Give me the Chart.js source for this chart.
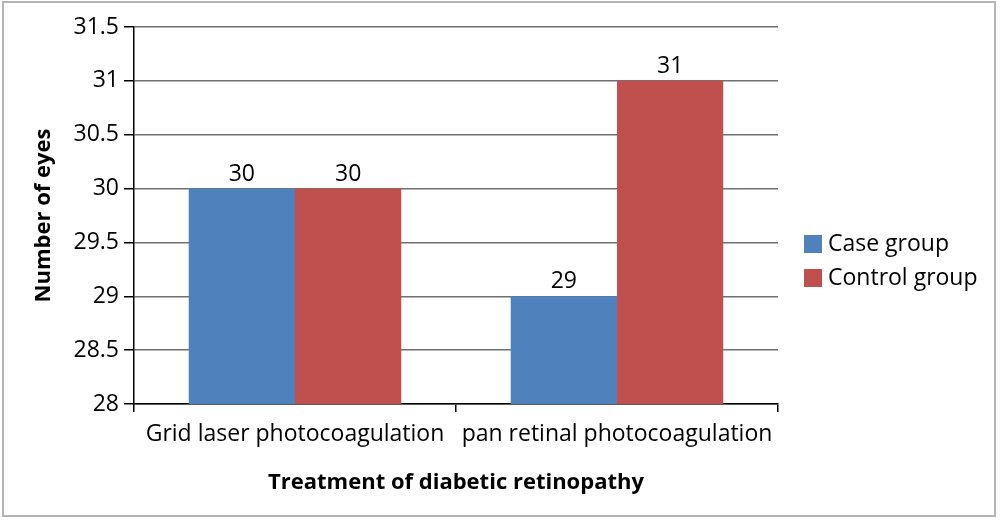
<!DOCTYPE html>
<html>
<head>
<meta charset="utf-8">
<script src="https://cdn.jsdelivr.net/npm/chart.js@4/dist/chart.umd.min.js"></script>
<style>
  html, body { margin: 0; padding: 0; background: #fff; }
  #wrap { width: 1000px; height: 520px; position: relative; }
</style>
</head>
<body>
<div id="wrap"><canvas id="eyesChart"></canvas></div>
<script>
const categories = ['Grid laser photocoagulation', 'pan retinal photocoagulation'];
const caseGroup = [30, 29];
const controlGroup = [30, 31];
const seriesNames = ['Case group', 'Control group'];
const yTicks = [28, 28.5, 29, 29.5, 30, 30.5, 31, 31.5];

const FONT = '"Open Sans", sans-serif';

// values above each bar
const barLabels = {
	id: 'barLabels',
	afterDatasetsDraw(chart) {
		const ctx = chart.ctx;
		ctx.save();
		ctx.font = '23px ' + FONT;
		ctx.fillStyle = '#000';
		ctx.textAlign = 'center';
		ctx.textBaseline = 'bottom';
		chart.data.datasets.forEach((ds, i) => {
			chart.getDatasetMeta(i).data.forEach((bar, j) => {
				ctx.fillText(String(ds.data[j]), bar.x, bar.y - 3);
			});
		});
		ctx.restore();
	}
};

// legend on the right plus the outer frame
const sideLegend = {
	id: 'sideLegend',
	afterDraw(chart) {
		const ctx = chart.ctx;
		ctx.save();
		ctx.strokeStyle = '#b4b4b4';
		ctx.lineWidth = 2;
		ctx.strokeRect(3, 2, 992, 514);
		ctx.font = '23px ' + FONT;
		ctx.textBaseline = 'middle';
		chart.data.datasets.forEach((ds, i) => {
			const y = 244 + i * 34;
			ctx.fillStyle = ds.backgroundColor;
			ctx.fillRect(804, y - 9, 18, 18);
			ctx.fillStyle = '#000';
			ctx.fillText(ds.label, 828, y);
		});
		ctx.restore();
	}
};

new Chart(document.getElementById('eyesChart').getContext('2d'), {
	type: 'bar',
	data: {
		labels: categories,
		datasets: [{
			label: seriesNames[0],
			data: caseGroup,
			backgroundColor: '#4F81BD'
		}, {
			label: seriesNames[1],
			data: controlGroup,
			backgroundColor: '#C0504D'
		}]
	},
	options: {
		responsive: true,
		maintainAspectRatio: false,
		animation: false,
		layout: {
			padding: { top: 27, right: 222, bottom: 0, left: 0 }
		},
		datasets: {
			bar: { categoryPercentage: 0.66, barPercentage: 1 }
		},
		scales: {
			x: {
				afterFit: (scale) => { scale.height = 116; },
				grid: {
					drawOnChartArea: false,
					drawTicks: true,
					tickLength: 8,
					color: '#000',
					lineWidth: 1.5
				},
				border: { color: '#000', width: 1.5 },
				ticks: {
					color: '#000',
					padding: 9,
					font: { family: FONT, size: 23 }
				},
				title: {
					display: true,
					text: 'Treatment of diabetic retinopathy',
					color: '#000',
					font: { family: FONT, size: 22, weight: 'bold' },
					padding: { top: 0, bottom: 24 }
				}
			},
			y: {
				min: 28,
				max: 31.5,
				afterFit: (scale) => { scale.width = 134; },
				afterBuildTicks: (scale) => { scale.ticks = yTicks.map(v => ({ value: v })); },
				grid: {
					color: '#707070',
					lineWidth: 1.5,
					tickLength: 10,
					tickColor: '#000'
				},
				border: { color: '#000', width: 1.5 },
				ticks: {
					color: '#000',
					padding: 5,
					font: { family: FONT, size: 23 },
					callback: (v) => String(v)
				},
				title: {
					display: true,
					text: 'Number of eyes',
					color: '#000',
					font: { family: FONT, size: 22, weight: 'bold' },
					padding: { top: 31, bottom: 0 }
				}
			}
		},
		plugins: {
			legend: { display: false },
			tooltip: { enabled: false }
		}
	},
	plugins: [barLabels, sideLegend]
});
</script>
</body>
</html>
